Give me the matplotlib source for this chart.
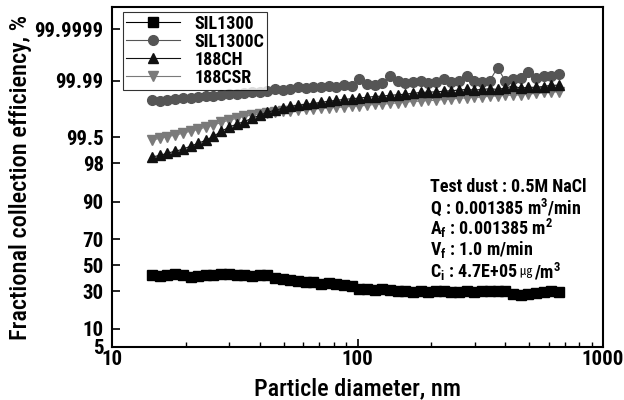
import math
import numpy as np
import matplotlib
matplotlib.use("Agg")
import matplotlib.pyplot as plt
from matplotlib import font_manager as fm

names = {f.name for f in fm.fontManager.ttflist}
base = 'DejaVu Sans'
for cand in ['Liberation Sans Narrow', 'Roboto Condensed', 'Archivo Narrow', 'Barlow Semi Condensed',
             'Asap Condensed', 'Liberation Sans']:
    if cand in names:
        base = cand
        break
plt.rcParams['font.family'] = [base, 'Noto Sans CJK KR', 'DejaVu Sans']
plt.rcParams['font.weight'] = 'semibold'
plt.rcParams['axes.labelweight'] = 'medium'
plt.rcParams['mathtext.fontset'] = 'custom'
plt.rcParams['mathtext.rm'] = base + ':semibold'
plt.rcParams['mathtext.it'] = base + ':italic'

diam = [14.6, 15.7, 16.8, 18.1, 19.5, 20.9, 22.5, 24.1, 25.9, 27.9, 30.0, 32.2, 34.6, 37.2,
        40.0, 42.9, 46.1, 49.6, 53.3, 57.3, 61.5, 66.1, 71.0, 76.4, 82.0, 88.2, 94.7, 101.8,
        109.4, 117.6, 126.3, 135.7, 145.9, 156.8, 168.5, 181.1, 194.6, 209.1, 224.7, 241.4,
        259.5, 278.8, 299.6, 322.0, 346.0, 371.8, 399.5, 429.4, 461.4, 495.8, 532.8, 572.5,
        615.3, 661.2]

sil1300 = [42, 41.5, 42, 43, 42, 41, 41.5, 42, 42.5, 43, 43, 42.5, 42, 41.5,
           42.5, 42, 40, 39.5, 38.5, 37.5, 37, 36.5, 35.5, 36, 35, 34.5, 33.5, 32,
           31.5, 31, 31.5, 31, 30, 30, 29.5, 30, 29.5, 30, 30, 29.5,
           29.5, 30, 29.5, 30, 30.5, 30, 30, 28, 27.5, 28.5, 29, 29.5, 30, 29.5]

sil1300c = [99.955, 99.954, 99.957, 99.960, 99.962, 99.961, 99.965, 99.968, 99.967, 99.970,
            99.972, 99.971, 99.974, 99.976, 99.975, 99.978, 99.980, 99.979, 99.981, 99.983,
            99.982, 99.984, 99.983, 99.985, 99.984, 99.986, 99.985, 99.991, 99.987, 99.986,
            99.988, 99.993, 99.990, 99.988, 99.989, 99.990, 99.988, 99.989, 99.991, 99.989,
            99.990, 99.993, 99.990, 99.989, 99.990, 99.9965, 99.990, 99.991, 99.992, 99.995,
            99.992, 99.993, 99.993, 99.994]

ch188 = [98.55, 98.65, 98.80, 98.92, 99.03, 99.18, 99.30, 99.41, 99.53, 99.65, 99.73, 99.775,
         99.81, 99.846, 99.874, 99.896, 99.91, 99.921, 99.931, 99.936, 99.94, 99.944, 99.948,
         99.952, 99.955, 99.958, 99.96, 99.962, 99.964, 99.966, 99.967, 99.969, 99.970, 99.9715,
         99.973, 99.975, 99.9754, 99.976, 99.977, 99.978, 99.979, 99.98, 99.979, 99.980, 99.981,
         99.980, 99.982, 99.9845, 99.982, 99.983, 99.983, 99.984, 99.9855, 99.9855]

csr188 = [99.41, 99.476, 99.52, 99.56, 99.61, 99.653, 99.69, 99.73, 99.76, 99.80, 99.825,
          99.846, 99.865, 99.874, 99.882, 99.889, 99.896, 99.903, 99.906, 99.91, 99.915, 99.917,
          99.921, 99.923, 99.926, 99.928, 99.931, 99.933, 99.936, 99.94, 99.94, 99.944, 99.946,
          99.948, 99.952, 99.952, 99.955, 99.955, 99.958, 99.958, 99.962, 99.962, 99.964, 99.964,
          99.967, 99.967, 99.969, 99.969, 99.970, 99.9715, 99.973, 99.975, 99.9754, 99.976]

yticks = [5, 10, 30, 50, 70, 90, 98, 99.5, 99.99, 99.9999]
ytick_labels = ['5', '10', '30', '50', '70', '90', '98', '99.5', '99.99', '99.9999']
xticks = [10, 100, 1000]
xtick_labels = ['10', '100', '1000']

# normal probability scale
_a = [-3.969683028665376e+01, 2.209460984245205e+02, -2.759285104469687e+02,
      1.383577518672690e+02, -3.066479806614716e+01, 2.506628277459239e+00]
_b = [-5.447609879822406e+01, 1.615858368580409e+02, -1.556989798598866e+02,
      6.680131188771972e+01, -1.328068155288572e+01]
_c = [-7.784894002430293e-03, -3.223964580411365e-01, -2.400758277161838e+00,
      -2.549732539343734e+00, 4.374664141464968e+00, 2.938163982698783e+00]
_d = [7.784695709041462e-03, 3.224671290700398e-01, 2.445134137142996e+00,
      3.754408661907416e+00]


def _ppf1(p):
    p = min(max(p, 1e-15), 1 - 1e-15)
    if p < 0.02425:
        q = math.sqrt(-2 * math.log(p))
        return (((((_c[0]*q+_c[1])*q+_c[2])*q+_c[3])*q+_c[4])*q+_c[5]) / \
               ((((_d[0]*q+_d[1])*q+_d[2])*q+_d[3])*q+1)
    if p > 1 - 0.02425:
        q = math.sqrt(-2 * math.log(1 - p))
        return -(((((_c[0]*q+_c[1])*q+_c[2])*q+_c[3])*q+_c[4])*q+_c[5]) / \
               ((((_d[0]*q+_d[1])*q+_d[2])*q+_d[3])*q+1)
    q = p - 0.5
    r = q * q
    return (((((_a[0]*r+_a[1])*r+_a[2])*r+_a[3])*r+_a[4])*r+_a[5])*q / \
           (((((_b[0]*r+_b[1])*r+_b[2])*r+_b[3])*r+_b[4])*r+1)


def forward(y):
    y = np.asarray(y, dtype=float)
    out = np.array([_ppf1(v / 100.0) if np.isfinite(v) else np.nan for v in y.ravel()])
    return out.reshape(y.shape)


def inverse(z):
    z = np.asarray(z, dtype=float)
    out = np.array([50.0 * (1 + math.erf(v / math.sqrt(2))) if np.isfinite(v) else np.nan
                    for v in z.ravel()])
    return out.reshape(z.shape)


fig = plt.figure(figsize=(6.24, 4.0), dpi=100)
ax = fig.add_axes([112/624, 1 - 347/400, (603 - 112)/624, 340/400])
ax.set_xscale('log')
ax.set_yscale('function', functions=(forward, inverse))

l1, = ax.plot(diam, sil1300, color='black', marker='s', ms=6.5, lw=0.8, zorder=3, label='SIL1300')
l2, = ax.plot(diam, sil1300c, color='#555555', marker='o', ms=7, lw=0.8, zorder=3, label='SIL1300C')
l3, = ax.plot(diam, ch188, color='#111111', marker='^', ms=7, lw=0.8, zorder=5, label='188CH')
l4, = ax.plot(diam, csr188, color='#7a7a7a', marker='v', ms=7, lw=0.8, zorder=4, label='188CSR')

ax.set_xlim(10, 1000)
ax.set_ylim(5, 99.99999)
ax.set_yticks(yticks)
ax.set_yticklabels(ytick_labels)
ax.yaxis.set_minor_locator(matplotlib.ticker.NullLocator())
ax.set_xticks(xticks)
ax.set_xticklabels(xtick_labels)

ax.tick_params(axis='both', which='major', direction='in', length=6, width=1.2,
               labelsize=15, pad=6, top=False, right=False)
ax.tick_params(axis='x', which='minor', direction='in', length=3.5, width=1.0, top=False)
ax.tick_params(axis='x', which='major', pad=2)
for s in ax.spines.values():
    s.set_linewidth(1.5)

ax.set_xlabel('Particle diameter, nm', fontsize=17.5, labelpad=6)
ax.set_ylabel('Fractional collection efficiency, %', fontsize=17.5, labelpad=2)

leg = ax.legend(handles=[l1, l2, l3, l4], loc='upper left', bbox_to_anchor=(0.022, 0.985),
                prop={'size': 13, 'weight': 'semibold', 'family': [base, 'DejaVu Sans']},
                frameon=True, fancybox=False, edgecolor='black',
                borderpad=0.15, labelspacing=0.0, handlelength=3.0, handletextpad=0.8,
                borderaxespad=0)
leg.get_frame().set_linewidth(0.8)

lines = ['Test dust : 0.5M NaCl',
         'Q : 0.001385 m$^{3}$/min',
         'A$_{\\mathrm{f}}$ : 0.001385 m$^{2}$',
         'V$_{\\mathrm{f}}$ : 1.0 m/min']
ys = [187, 207, 228, 249]
for t, yp in zip(lines, ys):
    fig.text(430/624, 1 - yp/400, t, fontsize=13, ha='left', va='center')

t1 = fig.text(430/624, 1 - 272/400, 'C$_{\\mathrm{i}}$ : 4.7E+05 ', fontsize=13, ha='left', va='center')
t2 = ax.annotate('㎍', xy=(1, 0.5), xycoords=t1, xytext=(1, 0), textcoords='offset points',
                 fontsize=9, ha='left', va='center', style='italic', fontweight='normal',
                 family=['Noto Sans CJK KR', 'DejaVu Sans'])
t3 = ax.annotate('/m$^{3}$', xy=(1, 0.5), xycoords=t2, xytext=(1, 0), textcoords='offset points',
                 fontsize=13, ha='left', va='center')

fig.savefig('out.png', dpi=100)
